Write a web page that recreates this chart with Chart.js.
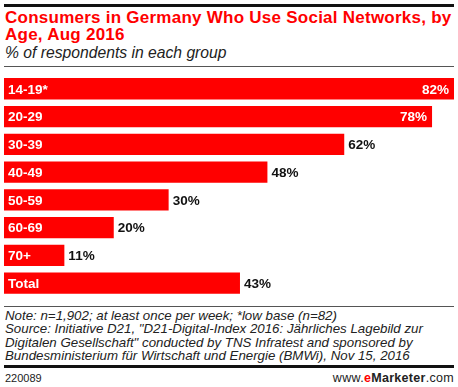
<!DOCTYPE html>
<html lang="en">
<head>
    <meta charset="UTF-8">
    <title>Consumers in Germany Who Use Social Networks, by Age, Aug 2016</title>
    <script src="https://cdn.jsdelivr.net/npm/chart.js"></script>
    <style>
        body { margin: 0; width: 458px; height: 387px; background: #fff; position: relative; overflow: hidden; font-family: Arial, "Liberation Sans", sans-serif; }
        .rule { position: absolute; left: 4px; width: 450px; }
        #title { position: absolute; left: 5px; top: 9px; width: 452px; color: #f00; font-weight: bold; font-size: 17px; line-height: 17px; letter-spacing: 0.25px; white-space: nowrap; }
        #subtitle { position: absolute; left: 5px; top: 44px; font-style: italic; font-size: 15.7px; color: #222; }
        #chartBox { position: absolute; left: 4px; top: 75px; width: 450px; height: 222px; }
        #notes { position: absolute; left: 5px; top: 309px; font-style: italic; font-size: 13.3px; line-height: 13.4px; color: #222; white-space: nowrap; }
        #id { position: absolute; left: 5px; top: 372px; font-size: 11px; color: #222; }
        #brand { position: absolute; right: 4px; top: 371px; font-size: 12.5px; color: #222; letter-spacing: 0.3px; }
    </style>
</head>
<body>
    <div class="rule" style="top:4px;height:3px;background:#111"></div>
    <div id="title">Consumers in Germany Who Use Social Networks, by<br>Age, Aug 2016</div>
    <div id="subtitle">% of respondents in each group</div>
    <div class="rule" style="top:66px;height:1px;background:#555"></div>
    <div class="rule" style="top:78px;height:2px;background:#f00"></div>
    <div id="chartBox"><canvas id="chart"></canvas></div>
    <div class="rule" style="top:306px;height:1px;background:#555"></div>
    <div id="notes">Note: n=1,902; at least once per week; *low base (n=82)<br>Source: Initiative D21, "D21-Digital-Index 2016: Jährliches Lagebild zur<br>Digitalen Gesellschaft" conducted by TNS Infratest and sponsored by<br>Bundesministerium für Wirtschaft und Energie (BMWi), Nov 15, 2016</div>
    <div class="rule" style="top:365px;height:3px;background:#111"></div>
    <div id="id">220089</div>
    <div id="brand">www.<b style="color:#f00">e</b><b>Marketer</b>.com</div>
    <script>
        // 연령대별 소셜 네트워크 이용률
        const ageGroups = ['14-19*', '20-29', '30-39', '40-49', '50-59', '60-69', '70+', 'Total'];
        const shares = [82, 78, 62, 48, 30, 20, 11, 43];

        // 막대 안/밖에 라벨 그리기
        const labelPlugin = {
            id: 'barLabels',
            afterDatasetsDraw(chart) {
                const ctx = chart.ctx;
                const meta = chart.getDatasetMeta(0);
                ctx.save();
                ctx.font = 'bold 13.5px Arial, "Liberation Sans", sans-serif';
                ctx.textBaseline = 'middle';
                meta.data.forEach((bar, i) => {
                    const left = bar.base;
                    ctx.fillStyle = '#fff';
                    ctx.textAlign = 'left';
                    ctx.fillText(ageGroups[i], left + 4, bar.y + 1);
                    const txt = shares[i] + '%';
                    if (shares[i] > 70) {
                        ctx.fillStyle = '#fff';
                        ctx.textAlign = 'right';
                        ctx.fillText(txt, bar.x - 5, bar.y + 1);
                    } else {
                        ctx.fillStyle = '#111';
                        ctx.textAlign = 'left';
                        ctx.fillText(txt, bar.x + 4, bar.y + 1);
                    }
                });
                ctx.restore();
            }
        };

        const ctx = document.getElementById('chart').getContext('2d');
        new Chart(ctx, {
            type: 'bar',
            data: {
                labels: ageGroups,
                datasets: [{
                    data: shares,
                    backgroundColor: '#f00',
                    borderWidth: 0,
                    barPercentage: 0.86,
                    categoryPercentage: 0.88
                }]
            },
            options: {
                indexAxis: 'y',
                responsive: true,
                maintainAspectRatio: false,
                animation: false,
                layout: { padding: 0 },
                scales: {
                    x: { display: false, min: 0, max: 82 },
                    y: { display: false }
                },
                plugins: {
                    legend: { display: false },
                    tooltip: { enabled: false }
                }
            },
            plugins: [labelPlugin]
        });
    </script>
</body>
</html>
